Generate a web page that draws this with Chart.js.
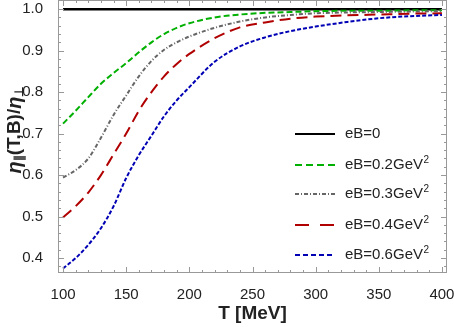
<!DOCTYPE html>
<html>
<head>
<meta charset="utf-8">
<script src="https://cdn.jsdelivr.net/npm/chart.js@4/dist/chart.umd.min.js"></script>
<style>
  html, body { margin: 0; padding: 0; background: #fff; }
  #wrap { width: 454px; height: 327px; position: relative; }
</style>
</head>
<body>
<div id="wrap"><canvas id="chart"></canvas></div>
<script>
// temperature grid (MeV)
const T = [100, 110, 120, 130, 140, 150, 160, 170, 180, 190, 200, 220, 240, 260, 280, 300, 325, 350, 375, 400];

// eta_par / eta_perp for each field strength
const eB0  = [1, 1, 1, 1, 1, 1, 1, 1, 1, 1, 1, 1, 1, 1, 1, 1, 1, 1, 1, 1];
const eB02 = [0.724, 0.755, 0.788, 0.820, 0.846, 0.870, 0.896, 0.920, 0.940, 0.955, 0.966, 0.980, 0.987, 0.991, 0.993, 0.995, 0.996, 0.996, 0.997, 0.997];
const eB03 = [0.594, 0.612, 0.640, 0.690, 0.745, 0.792, 0.838, 0.875, 0.902, 0.920, 0.934, 0.955, 0.970, 0.980, 0.986, 0.990, 0.992, 0.993, 0.994, 0.995];
const eB04 = [0.498, 0.525, 0.558, 0.600, 0.650, 0.700, 0.755, 0.800, 0.838, 0.868, 0.892, 0.930, 0.956, 0.968, 0.977, 0.982, 0.985, 0.987, 0.989, 0.990];
const eB06 = [0.375, 0.400, 0.432, 0.472, 0.525, 0.593, 0.648, 0.695, 0.742, 0.780, 0.812, 0.873, 0.910, 0.932, 0.947, 0.958, 0.969, 0.978, 0.983, 0.986];

const labels = ['eB=0', 'eB=0.2GeV', 'eB=0.3GeV', 'eB=0.4GeV', 'eB=0.6GeV'];
const labelSup = ['', '2', '2', '2', '2'];
const xTicks = [100, 150, 200, 250, 300, 350, 400];
const yTicks = [0.4, 0.5, 0.6, 0.7, 0.8, 0.9, 1.0];

const FONT = "'Liberation Sans', Arial, sans-serif";
const TEXT = '#222';
const FRAME = '#999';

const series = [
  { data: eB0,  color: '#000000', dash: [],            legendDash: [],           width: 2.5 },
  { data: eB02, color: '#00b000', dash: [6, 3],        legendDash: [7, 4],       width: 2 },
  { data: eB03, color: '#666666', dash: [4, 2, 1, 2],  legendDash: [4, 2, 1, 2], width: 2 },
  { data: eB04, color: '#b00000', dash: [11, 6],       legendDash: [14, 11],     width: 2 },
  { data: eB06, color: '#0000b4', dash: [4, 2],        legendDash: [5, 3],       width: 2 }
];

// frame + inward ticks on all four sides, Mathematica style
const framePlugin = {
  id: 'frame',
  afterDraw(chart) {
    const { ctx, chartArea: a, scales: { x, y } } = chart;
    ctx.save();
    ctx.strokeStyle = FRAME;
    ctx.lineWidth = 1;
    ctx.strokeRect(a.left + 0.5, a.top + 0.5, a.right - a.left - 1, a.bottom - a.top - 1);
    ctx.beginPath();
    for (let v = 100; v <= 400; v += 10) {
      const px = Math.round(x.getPixelForValue(v)) + 0.5;
      const len = v % 50 === 0 ? 6 : 3;
      ctx.moveTo(px, a.bottom); ctx.lineTo(px, a.bottom - len);
      ctx.moveTo(px, a.top); ctx.lineTo(px, a.top + len);
    }
    for (let k = 19; k <= 50; k++) {
      const v = k / 50;
      const py = Math.round(y.getPixelForValue(v)) + 0.5;
      const len = k % 5 === 0 ? 6 : 3;
      ctx.moveTo(a.left, py); ctx.lineTo(a.left + len, py);
      ctx.moveTo(a.right, py); ctx.lineTo(a.right - len, py);
    }
    ctx.stroke();
    ctx.restore();
  }
};

// axis titles with sub-scripts, and the legend in the lower right
const labelPlugin = {
  id: 'labels',
  afterDraw(chart) {
    const { ctx, chartArea: a } = chart;
    ctx.save();
    ctx.fillStyle = TEXT;

    // x title
    ctx.font = 'bold 19px ' + FONT;
    ctx.textAlign = 'center';
    ctx.textBaseline = 'middle';
    ctx.fillText('T [MeV]', (a.left + a.right) / 2 + 0, 314);

    // y title, rotated
    const parts = [
      { t: '\u03b7', f: 'italic bold 20px ' + FONT, dy: 0 },
      { t: '\u2225', f: 'bold 12px ' + FONT, dy: 5 },
      { t: '(T,B)/', f: 'bold 19px ' + FONT, dy: 0 },
      { t: '\u03b7', f: 'italic bold 20px ' + FONT, dy: 0 },
      { t: '\u22a5', f: 'bold 12px ' + FONT, dy: 5 }
    ];
    let total = 0;
    parts.forEach(p => { ctx.font = p.f; p.w = ctx.measureText(p.t).width; total += p.w; });
    ctx.translate(15, 130);
    ctx.rotate(-Math.PI / 2);
    ctx.textAlign = 'left';
    let cx = -total / 2;
    parts.forEach(p => {
      ctx.font = p.f;
      ctx.fillText(p.t, cx, p.dy);
      cx += p.w;
    });
    ctx.setTransform(1, 0, 0, 1, 0, 0);

    // legend
    const rows = [134, 165, 194, 225, 255];
    ctx.textBaseline = 'middle';
    series.forEach((s, i) => {
      const yy = rows[i];
      ctx.beginPath();
      ctx.strokeStyle = s.color;
      ctx.lineWidth = 2;
      ctx.setLineDash(s.legendDash);
      ctx.moveTo(295, yy);
      ctx.lineTo(335, yy);
      ctx.stroke();
      ctx.setLineDash([]);
      ctx.font = '15px ' + FONT;
      ctx.fillText(labels[i], 345, yy);
      if (labelSup[i]) {
        const w = ctx.measureText(labels[i]).width;
        ctx.font = '10px ' + FONT;
        ctx.fillText(labelSup[i], 345 + w + 0.5, yy - 5);
      }
    });
    ctx.restore();
  }
};

new Chart(document.getElementById('chart'), {
  type: 'line',
  data: {
    datasets: series.map((s, i) => ({
      label: labels[i] + labelSup[i],
      data: T.map((t, j) => ({ x: t, y: s.data[j] })),
      borderColor: s.color,
      borderWidth: s.width,
      borderDash: s.dash,
      cubicInterpolationMode: 'monotone',
      pointRadius: 0,
      fill: false,
      order: 5 - i
    }))
  },
  options: {
    responsive: true,
    maintainAspectRatio: false,
    animation: false,
    layout: { padding: { top: 0, right: 7, left: 0, bottom: 0 } },
    plugins: {
      legend: { display: false },
      tooltip: { enabled: false }
    },
    scales: {
      x: {
        type: 'linear',
        min: 96,
        max: 404,
        afterBuildTicks: (scale) => { scale.ticks = xTicks.map(v => ({ value: v })); },
        afterFit: (scale) => {
          scale.height = 54;
          scale.paddingLeft = 0;
          scale.paddingRight = 0;
        },
        border: { display: false },
        grid: { display: false },
        ticks: {
          color: TEXT,
          font: { family: FONT, size: 15 },
          padding: 5,
          maxRotation: 0
        }
      },
      y: {
        min: 0.364,
        max: 1.022,
        afterBuildTicks: (scale) => { scale.ticks = yTicks.map(v => ({ value: v })); },
        afterFit: (scale) => {
          scale.width = 58;
          scale.paddingTop = 0;
          scale.paddingBottom = 0;
        },
        border: { display: false },
        grid: { display: false },
        ticks: {
          color: TEXT,
          font: { family: FONT, size: 15 },
          padding: 7,
          callback: (v) => v.toFixed(1)
        }
      }
    }
  },
  plugins: [framePlugin, labelPlugin]
});
</script>
</body>
</html>
